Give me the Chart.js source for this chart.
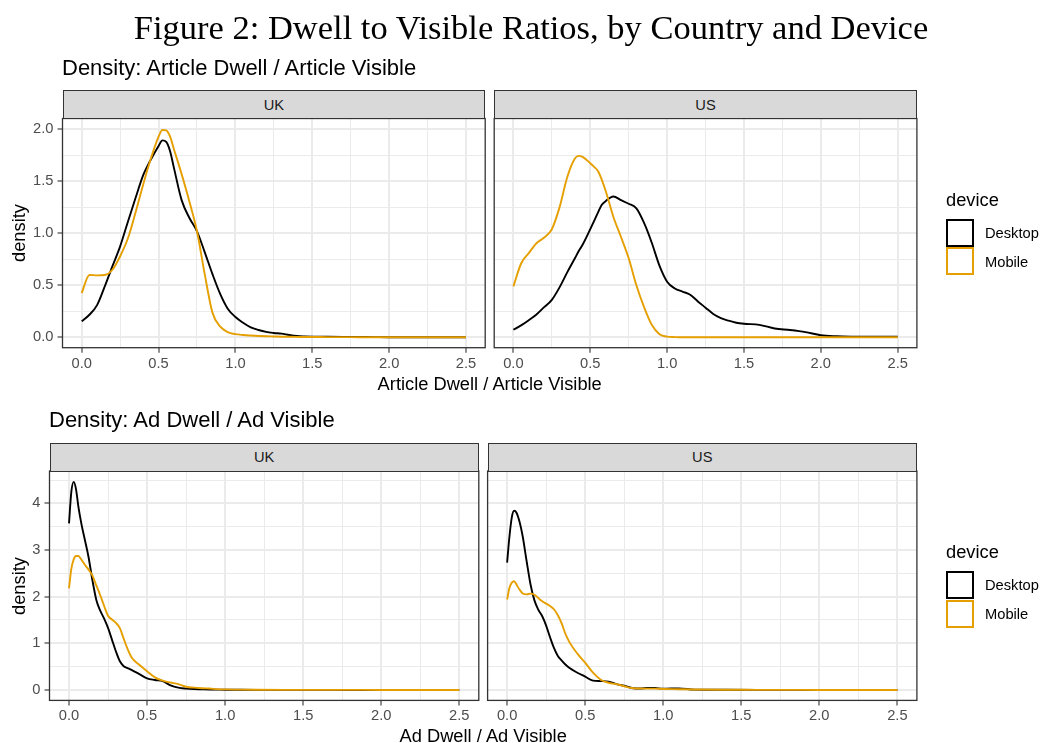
<!DOCTYPE html>
<html>
<head>
<meta charset="utf-8">
<script src="https://cdn.jsdelivr.net/npm/chart.js@4.4.1/dist/chart.umd.min.js"></script>
<style>
html,body{margin:0;padding:0;background:#fff;}
#page{position:relative;width:1041px;height:743px;overflow:hidden;font-family:'Liberation Sans',Arial,sans-serif;}
#page canvas{position:absolute;left:0;top:0;}
.t{position:absolute;white-space:nowrap;line-height:1;}
.strip{position:absolute;box-sizing:border-box;background:#d9d9d9;border:1.3px solid #333333;display:flex;align-items:center;justify-content:center;font-size:14.7px;color:#1a1a1a;font-family:'Liberation Sans',Arial,sans-serif;}
.key{position:absolute;box-sizing:border-box;width:28px;height:28px;background:#fff;border:2px solid #000;}
</style>
</head>
<body>
<div id="page"></div>
<script>
// ---------------- DATA ----------------
const countries = ['UK', 'US'];
const devices = ['Desktop', 'Mobile'];
const titleText = 'Figure 2: Dwell to Visible Ratios, by Country and Device';
const articleSubtitle = 'Density: Article Dwell / Article Visible';
const adSubtitle = 'Density: Ad Dwell / Ad Visible';
const articleXTitle = 'Article Dwell / Article Visible';
const adXTitle = 'Ad Dwell / Ad Visible';
const yTitle = 'density';
const legendTitle = 'device';

const xTickValues = [0, 0.5, 1, 1.5, 2, 2.5];
const xTickLabels = ['0.0', '0.5', '1.0', '1.5', '2.0', '2.5'];
const articleYTickValues = [0, 0.5, 1, 1.5, 2];
const articleYTickLabels = ['0.0', '0.5', '1.0', '1.5', '2.0'];
const adYTickValues = [0, 1, 2, 3, 4];
const adYTickLabels = ['0', '1', '2', '3', '4'];

// Article dwell / article visible densities
const articleX = [0,0.05,0.1,0.15,0.2,0.25,0.3,0.35,0.4,0.425,0.45,0.5,0.525,0.55,0.575,0.6,0.65,0.7,0.75,0.8,0.85,0.9,0.95,1.0,1.05,1.1,1.15,1.2,1.25,1.3,1.35,1.4,1.45,1.5,1.6,1.7,1.8,1.9,2.0,2.1,2.2,2.3,2.4,2.5];
const ukArticleDesktop = [0.154,0.217,0.31,0.49,0.685,0.875,1.11,1.34,1.56,1.64,1.71,1.84,1.895,1.88,1.79,1.63,1.32,1.15,1.02,0.82,0.61,0.42,0.275,0.195,0.14,0.095,0.07,0.052,0.042,0.035,0.022,0.012,0.008,0.006,0.005,0.004,0.003,0.002,0.001,0.001,0.001,0,0,0];
const ukArticleMobile = [0.426,0.60,0.596,0.60,0.65,0.78,0.95,1.20,1.47,1.60,1.72,1.93,1.995,1.99,1.93,1.81,1.57,1.31,1.02,0.61,0.24,0.105,0.05,0.03,0.022,0.017,0.013,0.01,0.008,0.006,0.005,0.004,0.003,0.003,0.002,0.002,0.001,0.001,0.001,0,0,0,0,0];
const usArticleDesktop = [0.073,0.115,0.165,0.22,0.29,0.36,0.48,0.625,0.76,0.83,0.89,1.04,1.12,1.20,1.275,1.31,1.355,1.32,1.285,1.24,1.10,0.91,0.69,0.535,0.47,0.44,0.41,0.345,0.285,0.225,0.185,0.16,0.14,0.13,0.12,0.085,0.07,0.05,0.02,0.01,0.006,0.005,0.006,0.007];
const usArticleMobile = [0.49,0.71,0.81,0.905,0.96,1.04,1.25,1.54,1.72,1.745,1.735,1.675,1.64,1.60,1.515,1.41,1.16,0.965,0.76,0.50,0.29,0.12,0.03,0.006,0.002,0.001,0,0,0,0,0,0,0,0,0,0,0,0,0,0,0,0,0,0];

// Ad dwell / ad visible densities
const adX = [0,0.015,0.03,0.045,0.06,0.08,0.1,0.125,0.15,0.175,0.2,0.225,0.25,0.275,0.3,0.325,0.35,0.375,0.4,0.45,0.5,0.55,0.6,0.65,0.7,0.75,0.8,0.85,0.9,0.95,1.0,1.1,1.2,1.4,1.6,1.8,2.0,2.25,2.5];
const ukAdDesktop = [3.57,4.25,4.46,4.30,3.93,3.55,3.24,2.85,2.35,1.93,1.70,1.53,1.33,1.08,0.83,0.62,0.51,0.47,0.43,0.34,0.25,0.215,0.19,0.10,0.05,0.03,0.02,0.015,0.01,0.008,0.006,0.004,0.003,0.002,0.002,0.001,0.001,0,0];
const ukAdMobile = [2.18,2.6,2.8,2.87,2.87,2.79,2.69,2.58,2.45,2.24,2.03,1.80,1.59,1.51,1.44,1.33,1.10,0.88,0.70,0.54,0.40,0.27,0.20,0.16,0.125,0.07,0.05,0.038,0.03,0.018,0.012,0.007,0.005,0.003,0.003,0.002,0.001,0.001,0];
const usAdDesktop = [2.73,3.29,3.70,3.84,3.80,3.60,3.29,2.76,2.26,1.92,1.72,1.58,1.38,1.13,0.90,0.73,0.63,0.54,0.47,0.37,0.286,0.20,0.19,0.18,0.125,0.09,0.042,0.03,0.045,0.042,0.025,0.035,0.008,0.004,0.003,0.002,0.001,0.001,0];
const usAdMobile = [1.94,2.19,2.30,2.33,2.26,2.15,2.07,2.05,2.065,2.04,1.97,1.90,1.85,1.80,1.73,1.60,1.42,1.19,1.02,0.78,0.585,0.37,0.22,0.155,0.125,0.08,0.043,0.03,0.029,0.028,0.022,0.016,0.01,0.005,0.003,0.002,0.001,0.001,0];

// ---------------- LAYOUT / STYLE ----------------
const W = 1041, H = 743;
const SANS = "'Liberation Sans', Arial, Helvetica, sans-serif";
const SERIF = "'Liberation Serif', 'DejaVu Serif', serif";
const colDesktop = '#000000';
const colMobile = '#E69F00';
const xMinor = [0.25, 0.75, 1.25, 1.75, 2.25];
const articleYMinor = [0.25, 0.75, 1.25, 1.75];
const adYMinor = [0.5, 1.5, 2.5, 3.5, 4.5];
const page = document.getElementById('page');

const panelBorder = {
  id: 'panelBorder',
  afterDatasetsDraw(chart) {
    const a = chart.chartArea, c = chart.ctx;
    c.save();
    c.strokeStyle = '#333333';
    c.lineWidth = 1.3;
    c.strokeRect(a.left, a.top, a.right - a.left, a.bottom - a.top);
    c.restore();
  }
};

function addText(txt, o) {
  const d = document.createElement('div');
  d.className = 't';
  d.textContent = txt;
  d.style.fontSize = o.size + 'px';
  d.style.fontFamily = o.family || SANS;
  d.style.color = o.color || '#000';
  if (o.rotate) {
    d.style.left = o.x + 'px';
    d.style.top = o.y + 'px';
    d.style.transform = 'translate(-50%,-50%) rotate(-90deg)';
  } else {
    d.style.top = (o.baseline - 0.8465 * o.size) + 'px';
    d.style.left = o.x + 'px';
    if (o.align === 'center') d.style.transform = 'translateX(-50%)' + (o.sx ? ' scaleX(' + o.sx + ')' : '');
  }
  page.appendChild(d);
  return d;
}

function addStrip(label, L, R, top, bottom) {
  const d = document.createElement('div');
  d.className = 'strip';
  d.textContent = label;
  d.style.left = L + 'px';
  d.style.top = top + 'px';
  d.style.width = (R - L) + 'px';
  d.style.height = (bottom - top + 0.6) + 'px';
  page.appendChild(d);
}

function makePanel(p) {
  const cv = document.createElement('canvas');
  cv.width = W; cv.height = H;
  cv.style.width = W + 'px'; cv.style.height = H + 'px';
  page.appendChild(cv);
  const AX = 40, XH = 30;
  const xAll = xTickValues.concat(xMinor);
  const yAll = p.yMajor.concat(p.yMinor);
  const isMajX = v => xTickValues.indexOf(v) >= 0;
  const isMajY = v => p.yMajor.indexOf(v) >= 0;
  const mk = (arr) => p.x.map((x, i) => ({x: x, y: arr[i]}));
  new Chart(cv, {
    type: 'line',
    data: {
      datasets: [
        {label: devices[1], data: mk(p.mobile), borderColor: colMobile, borderWidth: 1.9, pointRadius: 0, cubicInterpolationMode: 'monotone', fill: false, order: 1},
        {label: devices[0], data: mk(p.desktop), borderColor: colDesktop, borderWidth: 1.9, pointRadius: 0, cubicInterpolationMode: 'monotone', fill: false, order: 2}
      ]
    },
    options: {
      responsive: false,
      animation: false,
      devicePixelRatio: 1,
      events: [],
      layout: {padding: {left: p.L - AX, top: p.T, right: W - p.R, bottom: H - p.B - XH}},
      plugins: {legend: {display: false}, tooltip: {enabled: false}, title: {display: false}},
      scales: {
        x: {
          type: 'linear', min: -0.125, max: 2.625,
          afterBuildTicks: s => { s.ticks = xAll.map(v => ({value: v})); },
          afterFit: s => { s.height = XH; },
          border: {display: false},
          grid: {
            color: '#ebebeb',
            lineWidth: c => (c.tick && isMajX(c.tick.value)) ? 2 : 1,
            drawTicks: true, tickLength: 5, tickWidth: 1.1,
            tickColor: c => (c.tick && isMajX(c.tick.value)) ? '#333333' : 'rgba(0,0,0,0)'
          },
          ticks: {
            autoSkip: false, maxRotation: 0, minRotation: 0, padding: 2,
            color: '#4d4d4d', font: {family: SANS, size: 14.7},
            callback: v => { const i = xTickValues.indexOf(v); return i >= 0 ? xTickLabels[i] : ''; }
          }
        },
        y: {
          type: 'linear', min: p.yMin, max: p.yMax,
          afterBuildTicks: s => { s.ticks = yAll.map(v => ({value: v})); },
          afterFit: s => { s.width = AX; },
          border: {display: false},
          grid: {
            color: '#ebebeb',
            lineWidth: c => (c.tick && isMajY(c.tick.value)) ? 2 : 1,
            drawTicks: p.showY, tickLength: 5, tickWidth: 1.1,
            tickColor: c => (p.showY && c.tick && isMajY(c.tick.value)) ? '#333333' : 'rgba(0,0,0,0)'
          },
          ticks: {
            display: p.showY, autoSkip: false, padding: 4,
            color: '#4d4d4d', font: {family: SANS, size: 14.7},
            callback: v => { const i = p.yMajor.indexOf(v); return i >= 0 ? p.yLabels[i] : ''; }
          }
        }
      }
    },
    plugins: [panelBorder]
  });
}

// Panel geometry
const topRow = {T: 118.5, B: 347.7, stripTop: 90, yMin: -0.1, yMax: 2.105};
const botRow = {T: 471, B: 700.4, stripTop: 442.7, yMin: -0.2235, yMax: 4.6935};
const panels = [
  {country: countries[0], row: topRow, L: 62.5, R: 485.2, showY: true, x: articleX, desktop: ukArticleDesktop, mobile: ukArticleMobile, yMajor: articleYTickValues, yMinor: articleYMinor, yLabels: articleYTickLabels},
  {country: countries[1], row: topRow, L: 494.2, R: 916.9, showY: false, x: articleX, desktop: usArticleDesktop, mobile: usArticleMobile, yMajor: articleYTickValues, yMinor: articleYMinor, yLabels: articleYTickLabels},
  {country: countries[0], row: botRow, L: 49.5, R: 478.8, showY: true, x: adX, desktop: ukAdDesktop, mobile: ukAdMobile, yMajor: adYTickValues, yMinor: adYMinor, yLabels: adYTickLabels},
  {country: countries[1], row: botRow, L: 487.6, R: 916.9, showY: false, x: adX, desktop: usAdDesktop, mobile: usAdMobile, yMajor: adYTickValues, yMinor: adYMinor, yLabels: adYTickLabels}
];
panels.forEach(p => {
  p.T = p.row.T; p.B = p.row.B; p.yMin = p.row.yMin; p.yMax = p.row.yMax;
  makePanel(p);
  addStrip(p.country, p.L, p.R, p.row.stripTop, p.row.T);
});

// Title (fit to reference width)
(function () {
  const mc = document.createElement('canvas').getContext('2d');
  mc.font = '33px ' + SERIF;
  const w = mc.measureText(titleText).width;
  addText(titleText, {x: 530.5, baseline: 40, size: 33, family: SERIF, align: 'center', sx: (795 / w).toFixed(4)});
})();

addText(articleSubtitle, {x: 62, baseline: 76, size: 22});
addText(adSubtitle, {x: 49, baseline: 428, size: 22});
addText(articleXTitle, {x: 489.7, baseline: 390, size: 18.3, align: 'center'});
addText(adXTitle, {x: 483.2, baseline: 742, size: 18.3, align: 'center'});
addText(yTitle, {x: 18.5, y: 233, size: 18.3, rotate: true});
addText(yTitle, {x: 18.5, y: 585.7, size: 18.3, rotate: true});

// Legends
function addLegend(dy) {
  addText(legendTitle, {x: 946, baseline: 206 + dy, size: 18.3});
  const cols = [colDesktop, colMobile];
  devices.forEach((dv, i) => {
    const k = document.createElement('div');
    k.className = 'key';
    k.style.left = '946px';
    k.style.top = (218.5 + 28.8 * i + dy) + 'px';
    k.style.borderColor = cols[i];
    page.appendChild(k);
    addText(dv, {x: 985, baseline: 238.3 + 28.8 * i + dy, size: 14.7});
  });
}
addLegend(0);
addLegend(352.6);
</script>
</body>
</html>
